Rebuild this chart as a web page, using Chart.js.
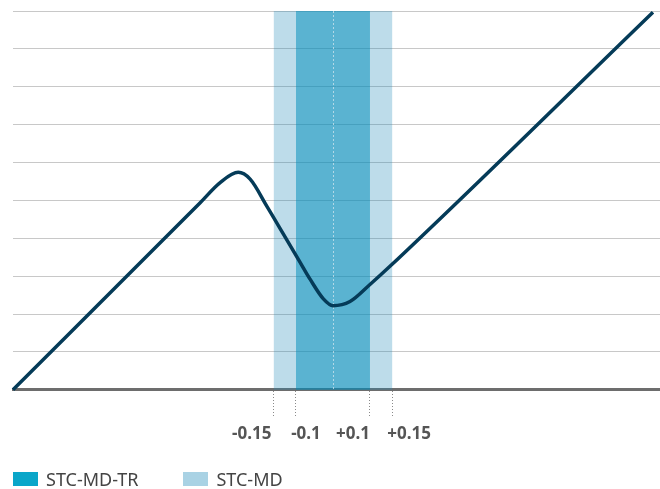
<!DOCTYPE html>
<html>
<head>
<meta charset="utf-8">
<script src="https://cdn.jsdelivr.net/npm/chart.js@4.4.1/dist/chart.umd.min.js"></script>
<style>
  html, body { margin: 0; padding: 0; background: #fff; }
  #wrap { position: relative; width: 660px; height: 489px; }
  #legend { position: absolute; left: 13px; top: 467px; display: flex; font-family: "Noto Sans", sans-serif; font-size: 18px; color: #444; }
  .item { display: flex; align-items: center; margin-right: 45px; }
  .sw { width: 25px; height: 14px; margin-right: 8px; }
</style>
</head>
<body>
<div id="wrap">
  <canvas id="c" width="660" height="489"></canvas>
  <div id="legend"></div>
</div>
<script>
// Curve points
const curveX = [-0.865, -0.359, -0.305, -0.256, -0.224, -0.179, -0.134, -0.094, -0.062, -0.026, 0, 0.046, 0.1, 0.154, 0.865];
const curveY = [0, 4.94, 5.47, 5.74, 5.56, 4.85, 4.11, 3.45, 2.92, 2.40, 2.22, 2.33, 2.78, 3.26, 9.97];

// Tolerance bands
const outerBand = [-0.16, 0.16];   // STC-MD
const innerBand = [-0.1, 0.1];     // STC-MD-TR

// X tick positions and labels
const tickValues = [-0.16, -0.1, 0.1, 0.16];
const tickLabels = ['-0.15', '-0.1', '+0.1', '+0.15'];

const legendNames = ['STC-MD-TR', 'STC-MD'];
const legendColors = ['#0aa6c9', '#a9d2e4'];

const xMin = -0.865, xMax = 0.884;
const yMin = 0, yMax = 10;

const bandPlugin = {
  id: 'bands',
  beforeDatasetsDraw(chart) {
    const { ctx, chartArea: a, scales: { x } } = chart;
    const o0 = x.getPixelForValue(outerBand[0]), o1 = x.getPixelForValue(outerBand[1]);
    const i0 = x.getPixelForValue(innerBand[0]), i1 = x.getPixelForValue(innerBand[1]);
    ctx.save();
    ctx.fillStyle = 'rgba(38,138,185,0.30)';
    ctx.fillRect(o0, a.top, i0 - o0, a.bottom - a.top);
    ctx.fillRect(i1, a.top, o1 - i1, a.bottom - a.top);
    ctx.fillStyle = 'rgba(1,138,184,0.65)';
    ctx.fillRect(i0, a.top, i1 - i0, a.bottom - a.top);
    const c = x.getPixelForValue(0);
    ctx.strokeStyle = 'rgba(200,225,235,0.8)';
    ctx.lineWidth = 1;
    ctx.setLineDash([2, 2]);
    ctx.beginPath();
    ctx.moveTo(Math.round(c) + 0.5, a.top);
    ctx.lineTo(Math.round(c) + 0.5, a.bottom);
    ctx.stroke();
    ctx.restore();
  }
};

// Tick labels drawn spread apart so they do not collide (as in the original)
const labelPlugin = {
  id: 'spreadLabels',
  afterDraw(chart) {
    const { ctx, scales: { x } } = chart;
    const shift = [-22, 10, -17, 17];
    ctx.save();
    ctx.font = 'bold 17px "Noto Sans"';
    ctx.fillStyle = '#555';
    ctx.textAlign = 'center';
    ctx.textBaseline = 'middle';
    tickValues.forEach((v, i) => {
      ctx.fillText(tickLabels[i], x.getPixelForValue(v) + shift[i], 434);
    });
    ctx.restore();
  }
};

new Chart(document.getElementById('c'), {
  type: 'line',
  data: {
    datasets: [{
      data: curveX.map((v, i) => ({ x: v, y: curveY[i] })),
      borderColor: '#053b58',
      borderWidth: 3.5,
      pointRadius: 0,
      cubicInterpolationMode: 'monotone',
      fill: false,
      clip: false
    }]
  },
  options: {
    responsive: false,
    animation: false,
    layout: { padding: { left: 13, right: 0, top: 11, bottom: 44 } },
    plugins: { legend: { display: false }, tooltip: { enabled: false } },
    scales: {
      x: {
        type: 'linear',
        min: xMin, max: xMax,
        afterBuildTicks(scale) { scale.ticks = tickValues.map(v => ({ value: v })); },
        ticks: {
          callback: (v, i) => tickLabels[i],
          color: 'rgba(0,0,0,0)',
          font: { family: 'Noto Sans', size: 16, weight: 'bold' },
          padding: 4,
          maxRotation: 0,
          autoSkip: false
        },
        grid: {
          drawOnChartArea: false,
          drawTicks: true,
          tickLength: 28,
          tickColor: '#8a8a8a',
          tickWidth: 1,
          tickBorderDash: [1, 2]
        },
        border: { display: true, color: '#6d6d6d', width: 3 }
      },
      y: {
        min: yMin, max: yMax,
        ticks: { display: false, stepSize: 1 },
        grid: { color: '#c8c8c8', lineWidth: 1, drawTicks: false },
        border: { display: false }
      }
    }
  },
  plugins: [bandPlugin, labelPlugin]
});

const lg = document.getElementById('legend');
legendNames.forEach((n, i) => {
  const it = document.createElement('div');
  it.className = 'item';
  const sw = document.createElement('div');
  sw.className = 'sw';
  sw.style.background = legendColors[i];
  const t = document.createElement('span');
  t.textContent = n;
  it.appendChild(sw); it.appendChild(t);
  lg.appendChild(it);
});
</script>
</body>
</html>
